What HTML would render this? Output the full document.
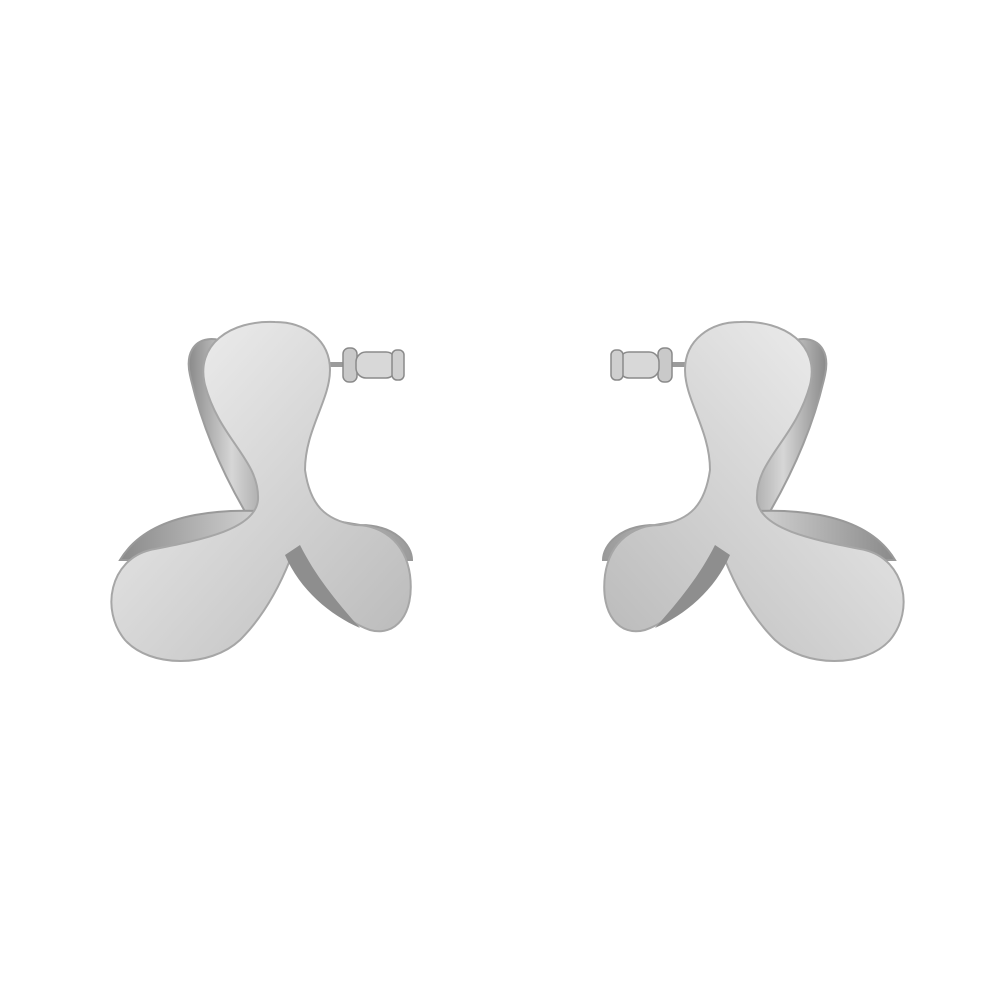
<!DOCTYPE html>
<html><head><meta charset="utf-8"><style>
html,body{margin:0;padding:0;background:#fff}
svg{display:block}
</style></head><body>
<svg width="1000" height="1000" viewBox="0 0 1000 1000">
<defs>
<linearGradient id="metal" x1="0" y1="0" x2="1" y2="1">
<stop offset="0" stop-color="#f4f4f4"/><stop offset="0.45" stop-color="#d9d9d9"/><stop offset="1" stop-color="#b9b9b9"/>
</linearGradient>
<linearGradient id="inner" x1="0" y1="0" x2="1" y2="0">
<stop offset="0" stop-color="#8a8a8a"/><stop offset="0.5" stop-color="#d6d6d6"/><stop offset="1" stop-color="#9a9a9a"/>
</linearGradient>
<g id="earring">
  <path d="M190 375 C180 330 230 330 240 360 L275 500 L250 520 C220 470 200 420 190 375 Z" fill="url(#inner)" stroke="#9d9d9d" stroke-width="2"/>
  <path d="M120 560 C150 510 230 505 300 515 L360 525 C395 525 412 545 412 560 L330 560 Z" fill="url(#inner)" stroke="#999" stroke-width="2"/>
  <g>
    <rect x="318" y="362" width="80" height="5" fill="#9b9b9b"/>
    <rect x="343" y="348" width="14" height="34" rx="6" fill="#c9c9c9" stroke="#8a8a8a" stroke-width="1.5"/>
    <rect x="356" y="352" width="40" height="26" rx="10" fill="#d8d8d8" stroke="#8a8a8a" stroke-width="1.5"/>
    <rect x="392" y="350" width="12" height="30" rx="5" fill="#cfcfcf" stroke="#8a8a8a" stroke-width="1.5"/>
  </g>
  <path d="M275 322 C230 320 195 345 205 385 C220 440 260 460 258 500 C255 530 200 540 150 550 C110 560 100 610 125 640 C150 668 210 668 240 640 C265 615 280 585 290 560 C310 585 340 620 370 630 C395 637 415 615 410 575 C405 540 380 525 355 525 C325 520 310 505 305 470 C305 430 330 400 330 370 C330 340 305 322 275 322 Z" fill="url(#metal)" stroke="#a6a6a6" stroke-width="2"/>
  <path d="M285 555 C300 590 330 615 360 628 C335 600 315 575 300 545 Z" fill="#8e8e8e"/>
</g>
</defs>
<use href="#earring"/>
<use href="#earring" transform="translate(1015,0) scale(-1,1)"/>
</svg>
</body></html>
